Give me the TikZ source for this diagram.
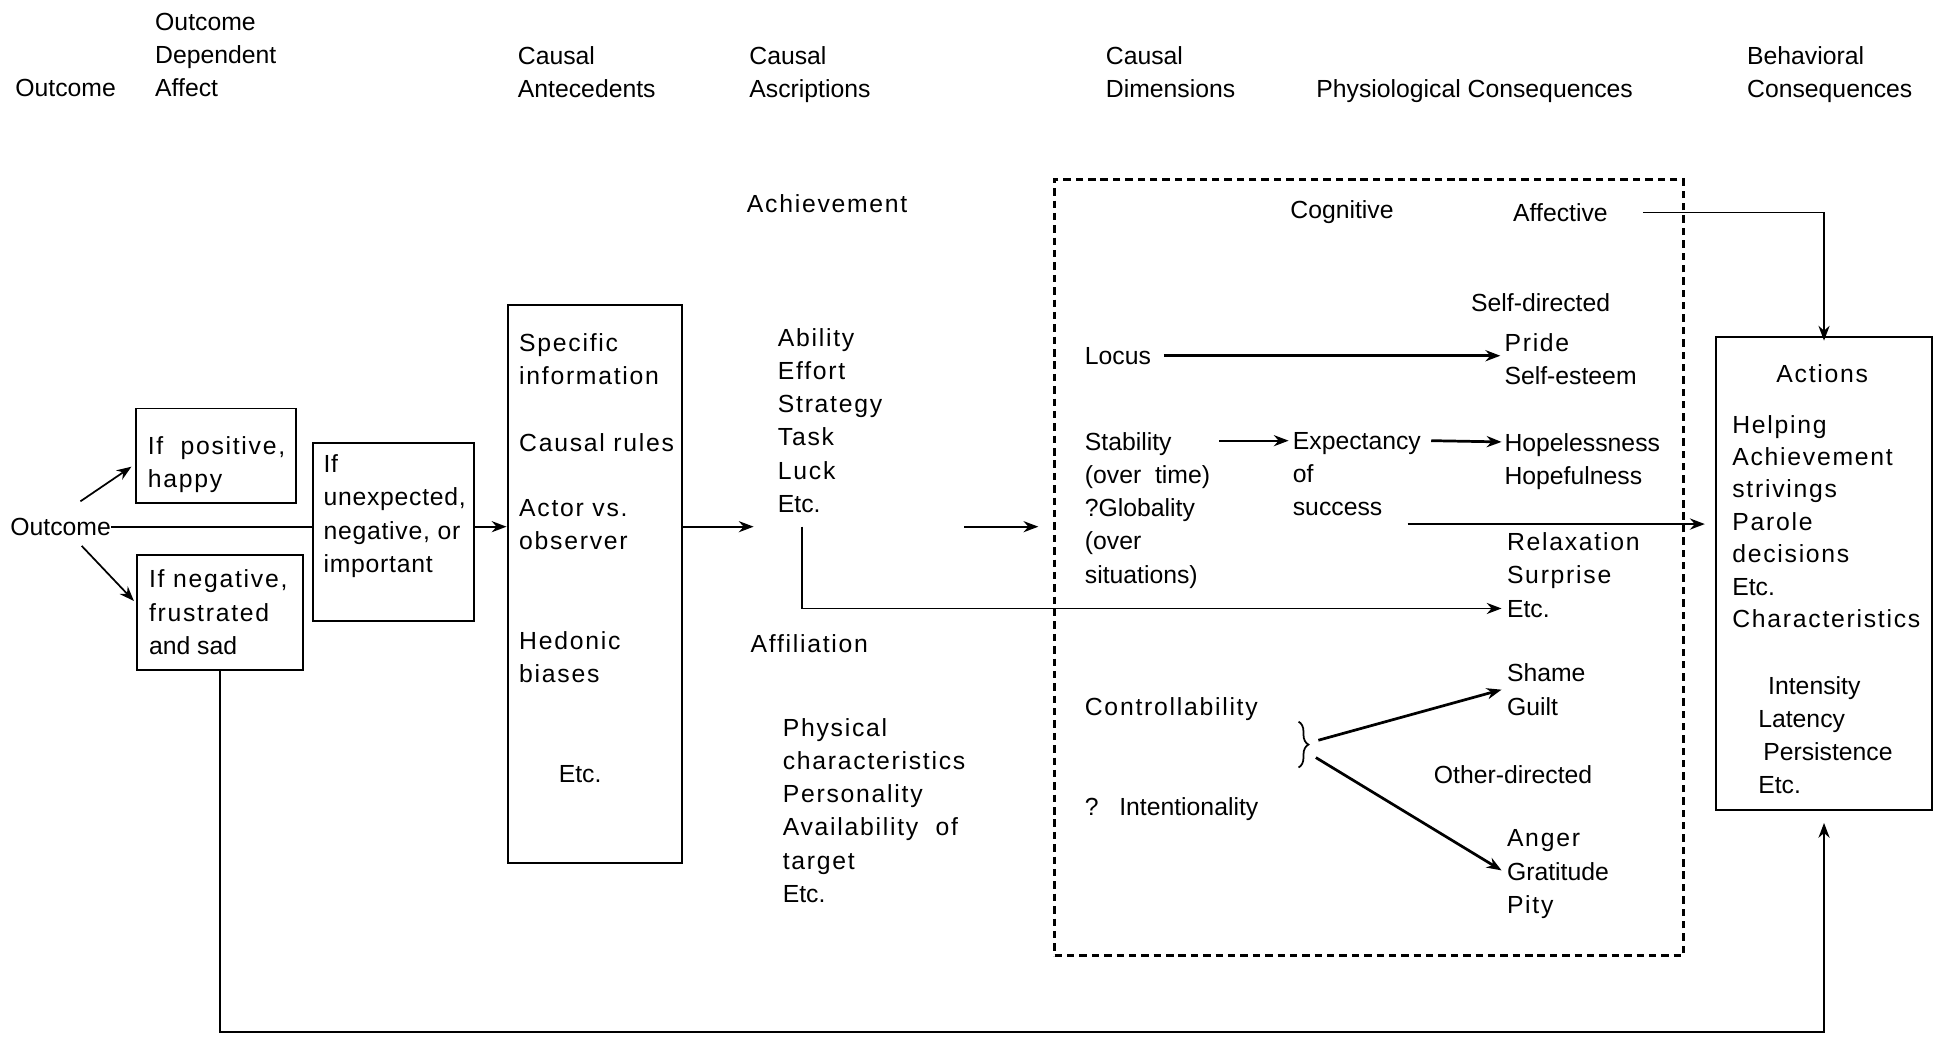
\documentclass[tikz,border=0pt]{standalone}
\usepackage{fontspec}
\setmainfont{Liberation Sans}
\newfontfamily\widef[LetterSpace=7]{Liberation Sans}
\newfontfamily\widesm[LetterSpace=3]{Liberation Sans}
\usetikzlibrary{arrows.meta,fit,calc,decorations.pathreplacing}
\begin{document}
\begin{tikzpicture}[x=0.5pt,y=-0.5pt,
  nt/.style={anchor=north west, inner sep=0pt, align=left, font=\fontsize{10}{13.4}\selectfont},
  wt/.style={anchor=north west, inner sep=0pt, align=left, font=\widef\fontsize{10}{13.4}\selectfont},
  boxr/.style={draw, line width=0.8pt, inner sep=0pt},
  arr/.style={-{Stealth[length=6pt,width=4.5pt]}, line width=0.7pt},
  tarr/.style={arr, line width=1.1pt},
  ln/.style={line width=0.7pt},
  dbox/.style={draw, line width=1pt, dash pattern=on 3pt off 2pt, inner sep=0pt}]
\useasboundingbox (0,0) rectangle (1568,838);
% headers
\node[nt] (hOut) at (12,64) {Outcome};
\node[nt] (hODA) at (125,10) {Outcome\\Dependent\\Affect};
\node[nt] (hCA) at (418,37) {Causal\\Antecedents};
\node[nt] (hCAs) at (605,37) {Causal\\Ascriptions};
\node[nt] (hCD) at (893,37) {Causal\\Dimensions};
\node[nt] (hPC) at (1063,64) {Physiological Consequences};
\node[nt] (hBC) at (1411,37) {Behavioral\\Consequences};
% left part
\node[nt] (out) at (8,418) {Outcome};
\node[boxr, fit={(110,330) (239,406)}] (b1) {};
\node[wt] (t1) at (119,352) {If\ \ positive,\\happy};
\node[boxr, fit={(111,448) (245,541)}] (b2) {};
\node[wt] (t2) at (120,460) {If negative,\\frustrated\\\rmfamily and sad};
\node[boxr, fit={(253,358) (383,502)}] (b3) {};
\node[wt, font=\widesm\fontsize{10}{13.4}\selectfont] (t3) at (261,367) {If\\unexpected,\\negative, or\\important};
% causal antecedents
\node[boxr, fit={(410,246) (551,697)}] (b4) {};
\node[wt] (ant1) at (419,269) {Specific\\information};
\node[wt] (ant2) at (419,350) {Causal rules};
\node[wt] (ant3) at (419,403) {Actor vs.\\observer};
\node[wt] (ant4) at (419,510) {Hedonic\\biases};
\node[wt] (ant5) at (451,618) {\rmfamily Etc.};
% causal ascriptions
\node[wt] (ach) at (603,157) {Achievement};
\node[wt] (abil) at (628,265) {Ability\\Effort\\Strategy\\Task\\Luck\\\rmfamily Etc.};
\node[wt] (affil) at (606,512) {Affiliation};
\node[wt] (phys) at (632,580) {Physical\\characteristics\\Personality\\Availability\ \ of\\target\\\rmfamily Etc.};
% dimensions box
\node[dbox, fit={(852,145) (1360,772)}] (dim) {};
\node[nt] (cog) at (1042,162) {Cognitive};
\node[nt] (affv) at (1222,164) {Affective};
\node[nt] (selfd) at (1188,237) {Self-directed};
\node[nt] (locus) at (876,280) {Locus};
\node[nt] (pse) at (1215,269) {\widef Pride\\Self-esteem};
\node[nt] (stab) at (876,349) {Stability\\(over\ \ time)\\?Globality\\(over\\situations)};
\node[nt] (expc) at (1044,349) {Expectancy\\of\\success};
\node[nt] (hope) at (1215,350) {Hopelessness\\Hopefulness};
\node[wt] (rel) at (1217,430) {Relaxation\\Surprise\\\rmfamily Etc.};
\node[wt] (ctrl) at (876,563) {Controllability};
\node[nt] (intent) at (876,644) {?\ \ \ Intentionality};
\node[nt] (shame) at (1217,536) {Shame\\Guilt};
\node[nt] (otherd) at (1158,618) {Other-directed};
\node[wt] (anger) at (1217,670) {Anger\\\rmfamily Gratitude\\\widef Pity};
\draw[decorate, decoration={brace, amplitude=4pt}, line width=0.7pt] (1049,583) -- (1049,620);
\coordinate (br1) at (1065,598);
\coordinate (br2) at (1063,612);
% actions box
\node[boxr, fit={(1386,272) (1561,654)}] (act) {};
\node[wt, anchor=north] (actT) at (1472,294) {Actions};
\node[wt, font=\widef\fontsize{10}{13.1}\selectfont] (actL) at (1399,335) {Helping\\Achievement\\strivings\\Parole\\decisions\\\rmfamily Etc.\\Characteristics};
\node[nt] (actC) at (1420,546) {\hspace{4pt}Intensity\\Latency\\\hspace{2pt}Persistence\\Etc.};
% free ends
\coordinate (a1) at ($(out.east -| b4.east)+(57,0)$);
\coordinate (c1) at ($(out.east -| b4.east)+(227,0)$);
\coordinate (c2) at ($(out.east -| b4.east)+(287,0)$);
\coordinate (e1) at ($(out.east -| abil.west)+(20,0)$);
% connectors
\draw[arr] ([shift={(16,-13)}]out.north) -- ([shift={(-3,9)}]b1.west);
\draw[arr] ([shift={(17,8)}]out.south) -- ([shift={(-2,-9)}]b2.west);
\draw[ln] (out.east) -- (out.east -| b3.west);
\draw[arr] (out.east -| b3.east) -- (out.east -| b4.west);
\draw[arr] (out.east -| b4.east) -- (a1);
\draw[arr] (c1) -- (c2);
\draw[ln, -{Stealth[length=6pt,width=4.5pt]}] (e1) |- ([shift={(-4,27)}]rel.west);
\draw[tarr] ([xshift=5pt]locus.east) -- ([xshift=-1.5pt]locus.east -| pse.west);
\draw[arr] ([shift={(109,7)}]stab.north west) -- ([shift={(-3,7)}]expc.north west);
\draw[tarr] ([shift={(8,7)}]expc.north east) -- ([shift={(-2,7)}]hope.north west);
\draw[tarr] ($(expc.south east)+(-11,6)$) -- ($(expc.south east -| act.west)+(-8,6)$);
\draw[arr] ([xshift=14pt]affv.east) -| ([yshift=-2pt]act.north);
\draw[tarr] (br1) -- ([shift={(-4,0)}]shame.west);
\draw[tarr] (br2) -- ([shift={(-4,-3)}]anger.west);
\draw[arr, shorten >=5pt] (b2.south) -- ++(0,292) -| (act.south);
\end{tikzpicture}
\end{document}
